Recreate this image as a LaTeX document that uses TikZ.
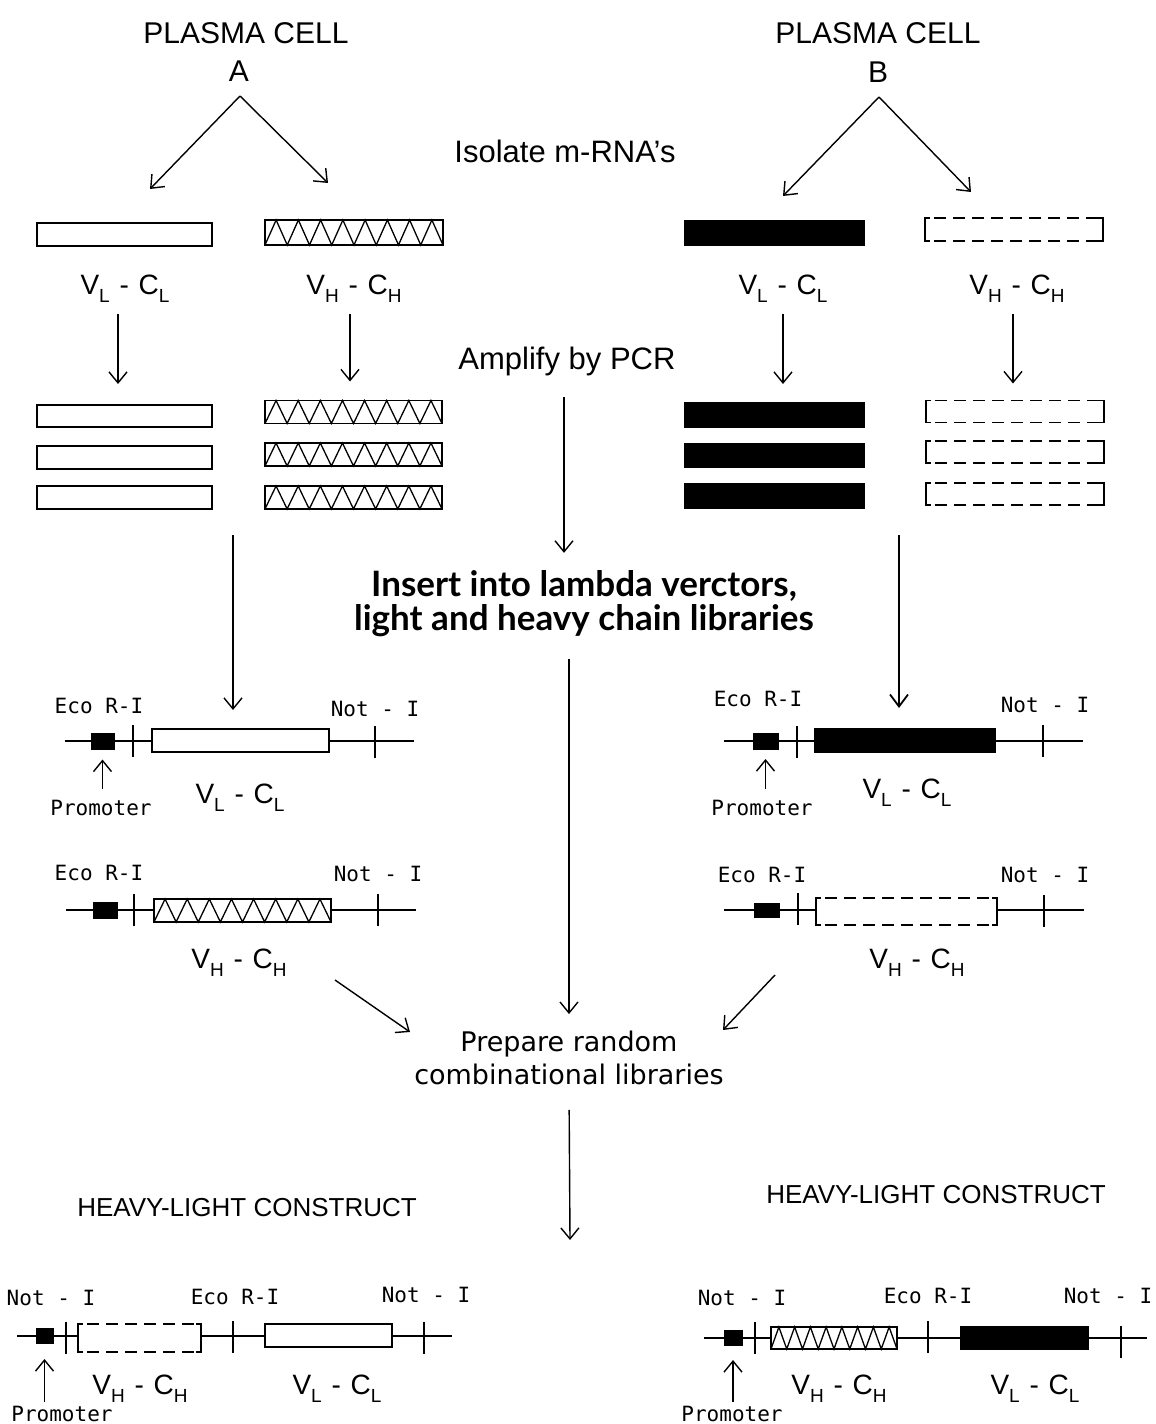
\documentclass[tikz,border=0pt]{standalone}
\usepackage{fontspec}
\setmainfont{Liberation Sans}
\newfontfamily\latofam{Lato}
\newfontfamily\dvsfam{DejaVu Sans}
\newfontfamily\dvmfam{DejaVu Sans Mono}
\usetikzlibrary{arrows.meta,calc}
\newcommand\lowsub[1]{\raisebox{-0.32em}{\fontsize{19}{19}\selectfont #1}}
\newcommand\chainlbl[2]{V\lowsub{#1}\hspace{0.35em}-\hspace{0.35em}C\lowsub{#2}}
\newcommand\zigzagin[1]{%
  \draw[zigline] (#1.south west)
    \foreach \k [evaluate=\k as \fa using (2*\k+1)/16, evaluate=\k as \fb using (2*\k+2)/16] in {0,...,7}
    { -- ($(#1.north west)!\fa!(#1.north east)$) -- ($(#1.south west)!\fb!(#1.south east)$) };}
\newcommand\brackin[1]{%
  \draw[dashline] ([xshift=9pt]#1.north west) -- ([xshift=-5pt]#1.north east);
  \draw[dashline] ([xshift=9pt]#1.south west) -- ([xshift=-5pt]#1.south east);
  \draw[bline] ([xshift=5pt]#1.north west) -- (#1.north west) -- (#1.south west) -- ([xshift=5pt]#1.south west);
  \draw[bline] ([xshift=-5pt]#1.north east) -- (#1.north east) -- (#1.south east) -- ([xshift=-5pt]#1.south east);}
\newcommand\sitetick[2]{\draw[tickline] ({#1},{#2-16}) -- ({#1},{#2+16});}
\begin{document}
\begin{tikzpicture}[x=1pt,y=-1pt,
  every node/.style={inner sep=0pt,outer sep=0pt},
  arr/.style={line width=1.4pt,-{Straight Barb[length=11pt,width=18pt,line width=1.4pt]}},
  bararr/.style={line width=2.6pt,-{Straight Barb[length=12pt,width=18pt,line width=1.8pt]}},
  gene/.style={draw,line width=1.8pt,fill=white,minimum width=177pt,minimum height=23pt},
  fgene/.style={gene,fill=black},
  dgene/.style={gene,draw=none},
  prombox/.style={draw,line width=1pt,fill=black,minimum width=24pt,minimum height=16pt},
  backbone/.style={line width=1.6pt},
  tickline/.style={line width=1.6pt},
  zigline/.style={line width=1.3pt},
  dashline/.style={line width=1.6pt,dash pattern=on 12pt off 7pt},
  bline/.style={line width=1.6pt},
  titlef/.style={font=\fontsize{30}{30}\selectfont,anchor=base},
  stepf/.style={font=\fontsize{31}{31}\selectfont,anchor=base},
  insf/.style={font=\latofam\bfseries\fontsize{35}{34}\selectfont,align=center},
  prepf/.style={font=\dvsfam\fontsize{27}{33}\selectfont,align=center},
  hlf/.style={font=\fontsize{26}{26}\selectfont,anchor=base},
  sitef/.style={font=\dvmfam\fontsize{21}{21}\selectfont,anchor=base},
  chainf/.style={font=\fontsize{28}{28}\selectfont,anchor=base}]
\fill[white] (0,0) rectangle (1156,1424);
\useasboundingbox (0,0) rectangle (1156,1424);

% ---------- titles ----------
\node[titlef] (pcA) at (246,43) {PLASMA CELL};
\node[titlef] (cA) at (239,81) {A};
\node[titlef] (pcB) at (878,43) {PLASMA CELL};
\node[titlef] (cB) at (878,82) {B};
\node[stepf] (iso) at (565,162) {Isolate m-RNA's};
\node[stepf] (amp) at (567,369) {Amplify by PCR};
\node[insf] (ins) at (584,604) {Insert into lambda verctors,\\light and heavy chain libraries};
\node[prepf] (prep) at (569,1058) {Prepare random\\combinational libraries};
\node[hlf] (hlA) at (247,1216) {HEAVY-LIGHT CONSTRUCT};
\node[hlf] (hlB) at (936,1203) {HEAVY-LIGHT CONSTRUCT};

% ---------- split arrows ----------
\coordinate (apA) at (240,96);
\coordinate (tAL) at (150,189);
\coordinate (tAH) at (328,183);
\coordinate (apB) at (879,97);
\coordinate (tBL) at (783,196);
\coordinate (tBH) at (971,192);
\draw[arr] (apA) -- (tAL);
\draw[arr] (apA) -- (tAH);
\draw[arr] (apB) -- (tBL);
\draw[arr] (apB) -- (tBH);

% ---------- m-RNA bars ----------
\node[gene,minimum width=175pt] (aL0) at (124.5,234.5) {};
\node[gene,minimum width=178pt,minimum height=25pt] (aH0) at (354,232.5) {};
\zigzagin{aH0}
\node[fgene,minimum width=179pt,minimum height=24pt] (bL0) at (774.5,233) {};
\node[dgene,minimum width=178pt,minimum height=23pt] (bH0) at (1014,229.5) {};
\brackin{bH0}

\node[chainf] (lAL) at (125,294) {\chainlbl{L}{L}};
\node[chainf] (lAH) at (354,294) {\chainlbl{H}{H}};
\node[chainf] (lBL) at (783,294) {\chainlbl{L}{L}};
\node[chainf] (lBH) at (1017,294) {\chainlbl{H}{H}};

% ---------- PCR copies ----------
\node[gene,minimum width=175pt,minimum height=22pt] (aL1) at (124.5,416) {};
\node[gene,minimum width=175pt,minimum height=23pt] (aL2) at (124.5,457.5) {};
\node[gene,minimum width=175pt,minimum height=23pt] (aL3) at (124.5,497.5) {};
\node[gene,minimum height=23pt] (aH1) at (353.5,412) {};
\node[gene,minimum height=23pt] (aH2) at (353.5,454.5) {};
\node[gene,minimum height=23pt] (aH3) at (353.5,497.5) {};
\zigzagin{aH1}\zigzagin{aH2}\zigzagin{aH3}
\node[fgene,minimum width=179pt,minimum height=24pt] (bL1) at (774.5,415) {};
\node[fgene,minimum width=179pt,minimum height=24pt] (bL2) at (774.5,455.5) {};
\node[fgene,minimum width=179pt,minimum height=24pt] (bL3) at (774.5,496) {};
\node[dgene,minimum width=178pt,minimum height=22pt] (bH1) at (1015,411.5) {};
\node[dgene,minimum width=178pt,minimum height=22pt] (bH2) at (1015,452) {};
\node[dgene,minimum width=178pt,minimum height=22pt] (bH3) at (1015,494) {};
\brackin{bH1}\brackin{bH2}\brackin{bH3}

\draw[arr,shorten <=11pt,shorten >=21pt] ([xshift=-7pt]lAL.south) -- ([xshift=-7pt]lAL.south |- aL1.north);
\draw[arr,shorten <=11pt,shorten >=19pt] ([xshift=-4pt]lAH.south) -- ([xshift=-4pt]lAH.south |- aH1.north);
\draw[arr,shorten <=11pt,shorten >=19pt] (lBL.south) -- (lBL.south |- bL1.north);
\draw[arr,shorten <=11pt,shorten >=17pt] ([xshift=-4pt]lBH.south) -- ([xshift=-4pt]lBH.south |- bH1.north);

% ---------- central flow ----------
\draw[arr,shorten <=22pt,shorten >=18pt] (amp.south -| 564,0) -- (ins.north -| 564,0);
\draw[arr,shorten <=22pt,shorten >=17pt] (ins.south -| prep.north) -- (prep.north);
\coordinate (brA) at (233,535);
\coordinate (brB) at (899,535);
\coordinate (dgA) at (335,980);
\coordinate (dgAe) at (410,1032);
\coordinate (dgB) at (775,975);
\coordinate (dgBe) at (723,1030);
\coordinate (fin) at (570,1240);
\draw[arr] (dgA) -- (dgAe);
\draw[arr] (dgB) -- (dgBe);
\draw[arr,shorten <=25pt] (prep.south) -- (fin);

% ---------- construct A1 (light) ----------
\coordinate (bbA1l) at (65,741);
\coordinate (bbA1r) at (414,741);
\draw[backbone] (bbA1l) -- (bbA1r);
\node[prombox,minimum width=23pt] (pA1) at (102.5,741.5) {};
\sitetick{133}{741}
\sitetick{375}{742}
\node[gene] (cA1) at (240.5,740.5) {};
\node[sitef] (eA1) at (99,713) {Eco R-I};
\node[sitef] (nA1) at (375,716) {Not - I};
\node[sitef] (prA1) at (101,815) {Promoter};
\node[chainf] (lA1) at (240,803) {\chainlbl{L}{L}};
\draw[arr,shorten <=11pt] (pA1.south |- prA1.north) -- ([yshift=-10pt]pA1.south);
\draw[arr,shorten >=19pt] (brA) -- (brA |- cA1.north);

% ---------- construct A2 (heavy) ----------
\coordinate (bbA2l) at (66,910);
\coordinate (bbA2r) at (416,910);
\draw[backbone] (bbA2l) -- (bbA2r);
\node[prombox] (pA2) at (105,910.5) {};
\sitetick{134}{910}
\sitetick{378}{910}
\node[gene] (cA2) at (242.5,910.5) {};
\zigzagin{cA2}
\node[sitef] (eA2) at (99,880) {Eco R-I};
\node[sitef] (nA2) at (378,881) {Not - I};
\node[chainf] (lA2) at (239,968) {\chainlbl{H}{H}};

% ---------- construct B1 (light) ----------
\coordinate (bbB1l) at (724,741);
\coordinate (bbB1r) at (1083,741);
\draw[backbone] (bbB1l) -- (bbB1r);
\node[prombox,minimum width=25pt] (pB1) at (765.5,741) {};
\sitetick{797}{742}
\sitetick{1043}{741}
\node[fgene,minimum width=180pt] (cB1) at (905,740.5) {};
\node[sitef] (eB1) at (758,706) {Eco R-I};
\node[sitef] (nB1) at (1045,712) {Not - I};
\node[sitef] (prB1) at (762,815) {Promoter};
\node[chainf] (lB1) at (907,798) {\chainlbl{L}{L}};
\draw[arr,shorten <=11pt] (pB1.south |- prB1.north) -- ([yshift=-10pt]pB1.south);
\draw[bararr,shorten >=21pt] (brB) -- (brB |- cB1.north);

% ---------- construct B2 (heavy) ----------
\coordinate (bbB2l) at (724,910);
\coordinate (bbB2r) at (1084,910);
\draw[backbone] (bbB2l) -- (bbB2r);
\node[prombox,minimum width=25pt,minimum height=14pt] (pB2) at (766.5,910) {};
\sitetick{798}{909}
\sitetick{1044}{911}
\node[dgene,minimum width=181pt,minimum height=27pt] (cB2) at (906.5,911.5) {};
\brackin{cB2}
\node[sitef] (eB2) at (762,882) {Eco R-I};
\node[sitef] (nB2) at (1045,882) {Not - I};
\node[chainf] (lB2) at (917,968) {\chainlbl{H}{H}};

% ---------- heavy-light construct (left) ----------
\coordinate (bbCl) at (17,1336);
\coordinate (bbCr) at (452,1336);
\draw[backbone] (bbCl) -- (bbCr);
\node[prombox,minimum width=17pt,minimum height=15pt] (pC) at (44.5,1335.5) {};
\sitetick{66}{1338}
\node[dgene,minimum width=123pt,minimum height=28pt] (cCH) at (139.5,1338) {};
\brackin{cCH}
\sitetick{233}{1337}
\node[gene,minimum width=127pt] (cCL) at (328.5,1335.5) {};
\sitetick{424}{1338}
\node[sitef] (nC1) at (51,1305) {Not - I};
\node[sitef] (eC) at (235,1304) {Eco R-I};
\node[sitef] (nC2) at (426,1302) {Not - I};
\node[sitef] (prC) at (62,1421) {Promoter};
\node[chainf] (lCH) at (140,1394) {\chainlbl{H}{H}};
\node[chainf] (lCL) at (337,1394) {\chainlbl{L}{L}};
\draw[arr,shorten <=4pt] (pC.south |- prC.north) -- ([yshift=-16pt]pC.south);

% ---------- heavy-light construct (right) ----------
\coordinate (bbDl) at (704,1338);
\coordinate (bbDr) at (1147,1338);
\draw[backbone] (bbDl) -- (bbDr);
\node[prombox,minimum width=18pt,minimum height=15pt] (pD) at (733,1337.5) {};
\sitetick{755}{1338}
\node[gene,minimum width=126pt,minimum height=22pt] (cDH) at (834,1338) {};
\zigzagin{cDH}
\sitetick{928}{1337}
\node[fgene,minimum width=127pt,minimum height=22pt] (cDL) at (1024.5,1338) {};
\sitetick{1121}{1342}
\node[sitef] (nD1) at (742,1305) {Not - I};
\node[sitef] (eD) at (928,1303) {Eco R-I};
\node[sitef] (nD2) at (1108,1303) {Not - I};
\node[sitef] (prD) at (732,1421) {Promoter};
\node[chainf] (lDH) at (839,1394) {\chainlbl{H}{H}};
\node[chainf] (lDL) at (1035,1394) {\chainlbl{L}{L}};
\draw[arr,shorten <=4pt] (pD.south |- prD.north) -- ([yshift=-15pt]pD.south);
\end{tikzpicture}
\end{document}
